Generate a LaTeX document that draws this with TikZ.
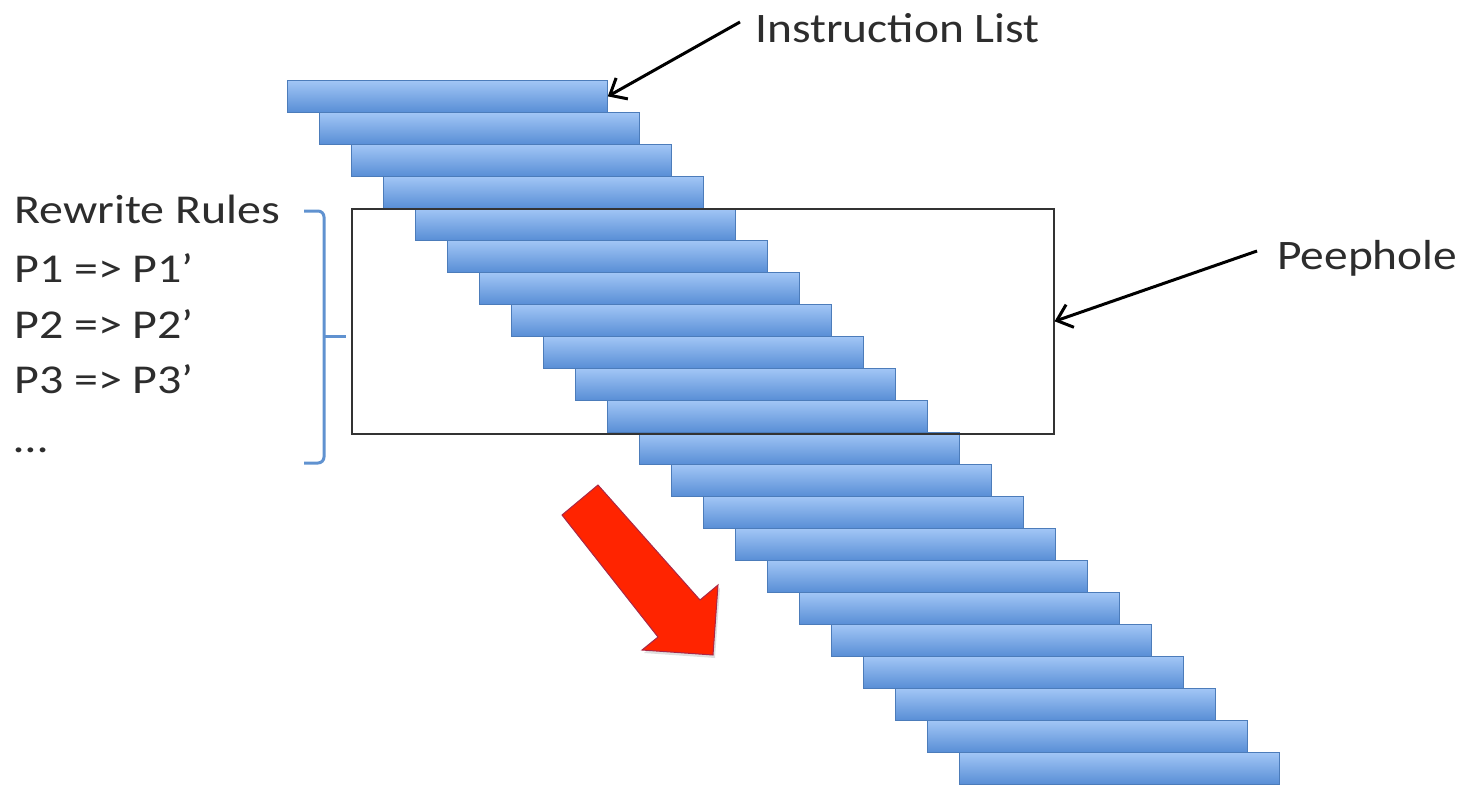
\documentclass[tikz,border=0pt]{standalone}
\usepackage{fontspec}
\setmainfont{Carlito}
\newfontfamily\labelfont[FakeStretch=1.13]{Carlito}
\newfontfamily\rulesfont[FakeStretch=1.17]{Carlito}
\usetikzlibrary{arrows.meta}

\definecolor{barTop}{RGB}{162,198,246}
\definecolor{barBot}{RGB}{88,142,214}
\definecolor{barEdge}{RGB}{76,124,186}
\definecolor{braceBlue}{RGB}{96,146,208}
\definecolor{txt}{RGB}{45,45,45}
\definecolor{bigRed}{RGB}{255,36,0}
\definecolor{redEdge}{RGB}{170,40,70}

\tikzset{
  bar/.style={rectangle, anchor=north west, inner sep=0pt,
    minimum width=320, minimum height=32,
    top color=barTop, bottom color=barBot, draw=barEdge, line width=0.8pt},
  label/.style={anchor=base west, inner sep=0pt, text=txt,
    font=\labelfont\fontsize{42}{50}\selectfont},
  rules/.style={anchor=base west, inner sep=0pt, text=txt,
    font=\rulesfont\fontsize{41}{49}\selectfont},
  pointer/.style={draw=black, line width=3pt,
    -{Straight Barb[length=14pt,width=24pt,line width=3pt]}},
  window/.style={rectangle, anchor=north west, inner sep=0pt,
    minimum width=702, minimum height=225, draw=black!80, line width=1.6pt},
}

\begin{document}
\begin{tikzpicture}[x=1pt, y=-1pt]
  \useasboundingbox (0,0) rectangle (1468,790);

  % staircase of instructions
  \foreach \i in {0,...,21} {
    \node[bar] (bar\i) at ({287+32*\i}, {80+32*\i}) {};
  }

  % peephole window
  \node[window] (peephole) at (351,208) {};

  % labels with pointers
  \node[label] (instr) at (755,42) {Instruction List};
  \coordinate (instrtail) at (740,22);
  \draw[pointer] (instrtail) -- (bar0.east);

  \node[label] (peep) at (1277,269) {Peephole};
  \coordinate (peeptail) at (1257,251);
  \draw[pointer] (peeptail) -- (peephole.east);

  % rewrite rules
  \node[rules] (r0) at (14,223) {Rewrite Rules};
  \node[rules] (r1) at (14,282) {P1 => P1’};
  \node[rules] (r2) at (14,338) {P2 => P2’};
  \node[rules] (r3) at (14,393) {P3 => P3’};
  \node[rules] (r4) at (14,452) {…};

  % brace gathering the rules
  \draw[braceBlue, line width=3pt, rounded corners=6pt]
    (304,211) -- (324,211) -- (324,463) -- (304,463);
  \draw[braceBlue, line width=3pt] (324,336) -- (346,336);

  % direction of the sliding window
  \fill[black!25, opacity=0.5]
    (600,488) -- (702,603) -- (720,588) -- (715,658) -- (644,653) -- (660,640) -- (564,518) -- cycle;
  \filldraw[fill=bigRed, draw=redEdge, line width=1pt]
    (598,485) -- (700,600) -- (718,585) -- (713,655) -- (642,650) -- (658,637) -- (562,515) -- cycle;
\end{tikzpicture}
\end{document}
